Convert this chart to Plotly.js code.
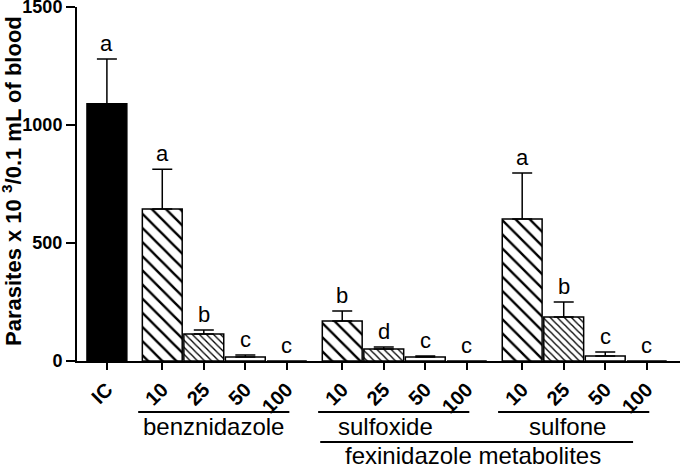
<!DOCTYPE html>
<html>
<head>
<meta charset="utf-8">
<script src="https://cdn.plot.ly/plotly-3.0.1.min.js"></script>
<style>
  html, body { margin: 0; padding: 0; background: #fff; }
  #chart { width: 680px; height: 468px; }
</style>
</head>
<body>
<div id="chart"></div>
<script>
const groups = ['benznidazole', 'sulfoxide', 'sulfone'];
const doses = ['10', '25', '50', '100'];

const icMean = 1090;
const icUpper = 1280;
const icLetter = 'a';

const benzMean = [644, 114, 17, 0];
const benzUpper = [813, 131, 25, 0];
const benzLetters = ['a', 'b', 'c', 'c'];

const sulfoxideMean = [169, 51, 17, 0];
const sulfoxideUpper = [212, 59, 21, 0];
const sulfoxideLetters = ['b', 'd', 'c', 'c'];

const sulfoneMean = [602, 186, 21, 0];
const sulfoneUpper = [797, 250, 38, 0];
const sulfoneLetters = ['a', 'b', 'c', 'c'];

const groupTitle = 'fexinidazole metabolites';
const yTitle = 'Parasites x 10 <sup>3</sup>/0.1 mL of blood';
const yTicks = [0, 500, 1000, 1500];

const FONT = 'Arial, Liberation Sans, sans-serif';

// fill style for each dose
const doseFill = {
	'10': {shape: '\\', size: 10, solidity: 0.24},
	'25': {shape: '\\', size: 5, solidity: 0.26},
	'50': {shape: ''},
	'100': {shape: ''}
};

let allMeans = [benzMean, sulfoxideMean, sulfoneMean];
let allUppers = [benzUpper, sulfoxideUpper, sulfoneUpper];
let allLetters = [benzLetters, sulfoxideLetters, sulfoneLetters];

// bar slots: IC at 0, then each compound block of 4 doses
let groupStart = [];
for(let g=0;g<groups.length;g++){
	groupStart.push(4/3 + g*13/3);
}
// where the compound name sits, relative to its first bar
let labelOffset = [1.24, 1.05, 1.08];

let tickX = [0];
let tickText = ['IC'];
let letterX = [0];
let letterY = [Math.max(icMean, icUpper)];
let letterText = [icLetter];

let traces = [];

// control bar
traces.push({
	type: 'bar',
	x: [0],
	y: [icMean],
	width: 0.96,
	marker: {color: 'black', line: {color: 'black', width: 1.5}},
	error_y: {
		type: 'data', symmetric: false,
		array: [icUpper - icMean], arrayminus: [0],
		color: 'black', thickness: 1.5, width: 10
	},
	hoverinfo: 'none'
});

// one trace per dose, across the three compounds
for(let i=0;i<doses.length;i++){
	let x = [], y = [], err = [];
	for(let g=0;g<groups.length;g++){
		x.push(groupStart[g] + i);
		y.push(allMeans[g][i]);
		err.push(allUppers[g][i] - allMeans[g][i]);
	}
	let fill = doseFill[doses[i]];
	let marker = {color: 'white', line: {color: 'black', width: 1.5}};
	if(fill.shape){
		marker.pattern = {
			shape: fill.shape, size: fill.size, solidity: fill.solidity,
			fgcolor: 'black', bgcolor: 'white', fillmode: 'replace'
		};
	}
	traces.push({
		type: 'bar',
		x: x,
		y: y,
		width: 0.96,
		marker: marker,
		error_y: {
			type: 'data', symmetric: false,
			array: err, arrayminus: err.map(() => 0),
			color: 'black', thickness: 1.5, width: 10,
			visible: doses[i] != '100'
		},
		hoverinfo: 'none'
	});
}

for(let g=0;g<groups.length;g++){
	for(let i=0;i<doses.length;i++){
		tickX.push(groupStart[g] + i);
		tickText.push(doses[i]);
		letterX.push(groupStart[g] + i);
		letterY.push(Math.max(allMeans[g][i], allUppers[g][i]));
		letterText.push(allLetters[g][i]);
	}
}

let annotations = [];
for(let i=0;i<letterX.length;i++){
	annotations.push({
		x: letterX[i], y: letterY[i],
		xref: 'x', yref: 'y',
		text: letterText[i],
		showarrow: false,
		xanchor: 'center',
		yanchor: 'bottom',
		yshift: 1,
		font: {family: FONT, size: 22, color: 'black'}
	});
}

let lineShapes = [];
for(let g=0;g<groups.length;g++){
	let s = groupStart[g];
	lineShapes.push({
		type: 'line', xref: 'x', yref: 'paper',
		x0: s - 0.58, x1: s + 3.06, y0: -0.144, y1: -0.144,
		line: {color: 'black', width: 2}
	});
	annotations.push({
		x: s + labelOffset[g], y: -0.186, xref: 'x', yref: 'paper',
		text: groups[g], showarrow: false,
		xanchor: 'center', yanchor: 'middle',
		font: {family: FONT, size: 24, color: 'black'}
	});
}
// line under both metabolites
lineShapes.push({
	type: 'line', xref: 'x', yref: 'paper',
	x0: groupStart[1] - 0.53, x1: groupStart[2] + 2.67, y0: -0.229, y1: -0.229,
	line: {color: 'black', width: 2}
});
annotations.push({
	x: groupStart[1] + 3.15, y: -0.266, xref: 'x', yref: 'paper',
	text: groupTitle, showarrow: false,
	xanchor: 'center', yanchor: 'middle',
	font: {family: FONT, size: 24, color: 'black'}
});

// y axis title, placed by hand so it clears the tick labels
annotations.push({
	x: -0.107, y: 0.51, xref: 'paper', yref: 'paper',
	text: yTitle, textangle: -90, showarrow: false,
	xanchor: 'center', yanchor: 'middle',
	font: {family: FONT, size: 22, color: 'black', weight: 'bold'}
});

Plotly.newPlot('chart', traces, {
	width: 680,
	height: 468,
	margin: {l: 77, r: 0, t: 7, b: 107},
	paper_bgcolor: 'white',
	plot_bgcolor: 'white',
	showlegend: false,
	barmode: 'overlay',
	xaxis: {
		range: [-0.72, 13.8],
		tickvals: tickX,
		ticktext: tickText,
		tickangle: -45,
		ticks: 'outside',
		ticklen: 7,
		tickwidth: 2,
		tickcolor: 'black',
		showline: true,
		linecolor: 'black',
		linewidth: 2,
		showgrid: false,
		zeroline: false,
		tickfont: {family: FONT, size: 20, color: 'black', weight: 'bold'}
	},
	yaxis: {
		range: [0, 1500],
		tickvals: yTicks,
		ticks: 'outside',
		ticklen: 9,
		tickwidth: 2,
		tickcolor: 'black',
		showline: true,
		linecolor: 'black',
		linewidth: 2,
		showgrid: false,
		zeroline: false,
		ticklabeloverflow: 'allow',
		tickfont: {family: FONT, size: 18, color: 'black', weight: 'bold'},
		automargin: false
	},
	shapes: lineShapes,
	annotations: annotations
}, {displayModeBar: false});
</script>
</body>
</html>
